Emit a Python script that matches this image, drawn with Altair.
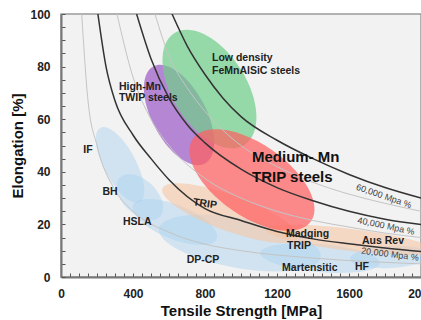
import altair as alt
import pandas as pd

# ---------------- data ----------------
# steel families drawn as translucent regions (centre in MPa / %)
family = ["IF", "BH", "HSLA", "DP-CP", "Martensitic", "HF",
          "TRIP", "Maraging TRIP / Aus Rev",
          "High-Mn TWIP", "Low density FeMnAlSiC", "Medium-Mn TRIP"]
center_strength = [328, 439, 633, 994, 1439, 1828, 939, 1606, 656, 825, 1061]
center_elongation = [42.6, 30.4, 20.9, 12.9, 7.2, 7.6, 24.3, 14.1, 61.6, 71.5, 36.9]

# iso strength x elongation curves (MPa %)
c10_strength = [115, 150, 200, 300, 400, 600, 800, 1000, 1400, 2000]
c10_elong = [100, 67, 50, 33, 25, 17, 12.5, 10, 7.2, 5]
c20_strength = [205, 250, 300, 400, 500, 600, 800, 1000, 1200, 1400, 1600, 1800, 2000]
c20_elong = [100, 80, 67, 54, 45, 37, 26, 21.5, 17.3, 14.5, 12.6, 11, 9.7]
c30_strength = [311, 400, 500, 600, 800, 1000, 1200, 1400, 1600, 1800, 2000]
c30_elong = [100, 76, 60, 50, 37.5, 30, 25, 21.5, 19, 16.7, 15]
c40_strength = [420, 500, 600, 700, 800, 1000, 1200, 1400, 1600, 1800, 2000]
c40_elong = [100, 83, 68, 58, 51, 41, 34, 29, 25, 22, 20]
c50_strength = [522, 600, 700, 800, 1000, 1200, 1400, 1600, 1800, 2000]
c50_elong = [100, 84, 72, 63, 50, 42, 36, 31.5, 28, 25]
c60_strength = [617, 700, 800, 900, 1000, 1200, 1400, 1600, 1800, 2000]
c60_elong = [100, 88, 77, 68, 61, 52, 45, 39, 34, 30]

# annotations
label_text = ["Low density", "FeMnAlSiC steels", "High-Mn", "TWIP steels",
              "IF", "BH", "HSLA", "DP-CP", "Madging", "TRIP", "Aus Rev",
              "Martensitic", "HF"]
label_strength = [839, 839, 322, 322, 150, 272, 344, 789, 1250, 1256, 1672, 1228, 1633]
label_elong = [83.3, 78.3, 72.2, 68.1, 48.3, 32.3, 20.9, 6.5, 16.3, 11.8, 13.7, 3.4, 3.8]
label_align = ["left", "left", "left", "left", "center", "center", "left",
               "center", "left", "left", "left", "left", "left"]

big_text = ["Medium- Mn", "TRIP steels"]
big_strength = [1061, 1061]
big_elong = [45.6, 38.0]

trip_text = ["TRIP"]
trip_strength = [800]
trip_elong = [27.8]

iso_text = ["60,000 Mpa %", "40,000 Mpa %", "20,000 Mpa %"]
iso_strength = [1794, 1806, 1828]
iso_elong = [30.8, 19.4, 8.7]
iso_angle = [19, 12, 7]

# ---------------- styles ----------------
FONT = "Liberation Sans"
# colour, opacity, semi-major (px), semi-minor (px), rotation (deg)
ELLIPSE_STYLE = [
    ("#a8d0f0", 0.45, 42, 16, 62),
    ("#a8d0f0", 0.45, 28, 17, 45),
    ("#a8d0f0", 0.45, 45, 17, 22),
    ("#a8d0f0", 0.45, 82, 25, 10),
    ("#a8d0f0", 0.45, 60, 14, 5),
    ("#a8d0f0", 0.45, 40, 11, 357),
    ("#f5c6a5", 0.6, 72, 18, 20),
    ("#f5c6a5", 0.6, 85, 11, 7),
    ("#9b59c6", 0.7, 55, 27, 62),
    ("#6fcf8a", 0.7, 66, 37, 58),
    ("#ff6060", 0.72, 72, 36, 35),
]


def ellipse_path(r):
    k = 0.5523
    return (f"M -1 0 C -1 {-k*r:.4f} {-k:.4f} {-r:.4f} 0 {-r:.4f} "
            f"C {k:.4f} {-r:.4f} 1 {-k*r:.4f} 1 0 "
            f"C 1 {k*r:.4f} {k:.4f} {r:.4f} 0 {r:.4f} "
            f"C {-k:.4f} {r:.4f} -1 {k*r:.4f} -1 0 Z")


ell_df = pd.DataFrame({
    "family": family,
    "strength": center_strength,
    "elong": center_elongation,
    "color": [s[0] for s in ELLIPSE_STYLE],
    "opacity": [s[1] for s in ELLIPSE_STYLE],
    "size": [(2 * s[2]) ** 2 for s in ELLIPSE_STYLE],
    "path": [ellipse_path(s[3] / s[2]) for s in ELLIPSE_STYLE],
    "angle": [s[4] for s in ELLIPSE_STYLE],
    "order": list(range(len(family))),
})

rows = []
for lvl, xs, ys, kind in [
    (10000, c10_strength, c10_elong, "thin"),
    (30000, c30_strength, c30_elong, "thin"),
    (50000, c50_strength, c50_elong, "thin"),
    (20000, c20_strength, c20_elong, "dark"),
    (40000, c40_strength, c40_elong, "dark"),
    (60000, c60_strength, c60_elong, "dark"),
]:
    for i, (sx, ey) in enumerate(zip(xs, ys)):
        rows.append({"level": lvl, "strength": sx, "elong": ey, "kind": kind, "i": i})
curve_df = pd.DataFrame(rows)

xscale = alt.Scale(domain=[0, 2000], nice=False, zero=False)
yscale = alt.Scale(domain=[0, 100], nice=False, zero=False)

xaxis = alt.Axis(
    values=list(range(0, 2001, 50)),
    labelExpr="datum.value % 400 === 0 ? datum.label : ''",
    format="d", title="Tensile Strength [MPa]",
    tickSize={"expr": "-4"}, labelPadding=15, labelFlush=False, labelOverlap=False,
    titleY=33, titleBaseline="middle",
)
yaxis = alt.Axis(
    values=list(range(0, 101, 5)),
    labelExpr="datum.value % 20 === 0 ? datum.label : ''",
    format="d", title="Elongation [%]",
    tickSize={"expr": "-4"}, labelPadding=15, labelFlush=False, labelOverlap=False,
    titleX=-44, titleY=131.5, titleAngle=270, titleAlign="center", titleBaseline="middle",
)

X = alt.X("strength:Q", scale=xscale, axis=xaxis)
Y = alt.Y("elong:Q", scale=yscale, axis=yaxis)

ellipses = alt.Chart(ell_df).mark_point(filled=True, strokeWidth=0, clip=True).encode(
    x=X, y=Y,
    shape=alt.Shape("path:N", scale=None, legend=None),
    size=alt.Size("size:Q", scale=None, legend=None),
    angle=alt.Angle("angle:Q", scale=None),
    color=alt.Color("color:N", scale=None, legend=None),
    opacity=alt.Opacity("opacity:Q", scale=None, legend=None),
    order=alt.Order("order:Q"),
)

thin = alt.Chart(curve_df).transform_filter("datum.kind === 'thin'").mark_line(
    color="#c4c4c4", strokeWidth=1, clip=True, interpolate="monotone"
).encode(x=X, y=Y, detail="level:N", order="i:Q")

dark = alt.Chart(curve_df).transform_filter("datum.kind === 'dark'").mark_line(
    color="#333333", strokeWidth=1.5, clip=True, interpolate="monotone"
).encode(x=X, y=Y, detail="level:N", order="i:Q")

lab_df = pd.DataFrame({"text": label_text, "strength": label_strength,
                       "elong": label_elong, "align": label_align})
labels_left = alt.Chart(lab_df).transform_filter("datum.align === 'left'").mark_text(
    font=FONT, fontSize=10.5, fontWeight="bold", color="#222", align="left", baseline="middle"
).encode(x=X, y=Y, text="text:N")
labels_center = alt.Chart(lab_df).transform_filter("datum.align === 'center'").mark_text(
    font=FONT, fontSize=10.5, fontWeight="bold", color="#222", align="center", baseline="middle"
).encode(x=X, y=Y, text="text:N")

big_df = pd.DataFrame({"text": big_text, "strength": big_strength, "elong": big_elong})
big_labels = alt.Chart(big_df).mark_text(
    font=FONT, fontSize=15, fontWeight="bold", color="#111", align="left", baseline="middle"
).encode(x=X, y=Y, text="text:N")

trip_df = pd.DataFrame({"text": trip_text, "strength": trip_strength, "elong": trip_elong})
trip_label = alt.Chart(trip_df).mark_text(
    font=FONT, fontSize=10.5, fontWeight="bold", color="#222", align="center",
    baseline="middle", angle=8
).encode(x=X, y=Y, text="text:N")

iso_df = pd.DataFrame({"text": iso_text, "strength": iso_strength,
                       "elong": iso_elong, "angle": iso_angle})
iso_labels = alt.Chart(iso_df).mark_text(
    font=FONT, fontSize=9, color="#444", align="center", baseline="middle"
).encode(x=X, y=Y, text="text:N", angle=alt.Angle("angle:Q", scale=None))

chart = alt.layer(
    ellipses, thin, dark, labels_left, labels_center, big_labels, trip_label, iso_labels
).properties(
    width=360, height=263,
    autosize=alt.AutoSizeParams(type="none"),
    padding={"left": 61, "top": 14, "right": 0, "bottom": 43},
    background="white",
).configure_view(
    fill="#f2f2f2", stroke="#9a9a9a", strokeWidth=1.5
).configure_axis(
    grid=False, domainColor="#777", domainWidth=2, tickColor="#555", tickWidth=1,
    labelFont=FONT, labelFontSize=12, labelFontWeight="bold", labelColor="#222",
    titleFont=FONT, titleFontSize=15, titleFontWeight="bold", titleColor="#111",
)

chart.save("out.html", embed_options={"renderer": "svg", "actions": False})
